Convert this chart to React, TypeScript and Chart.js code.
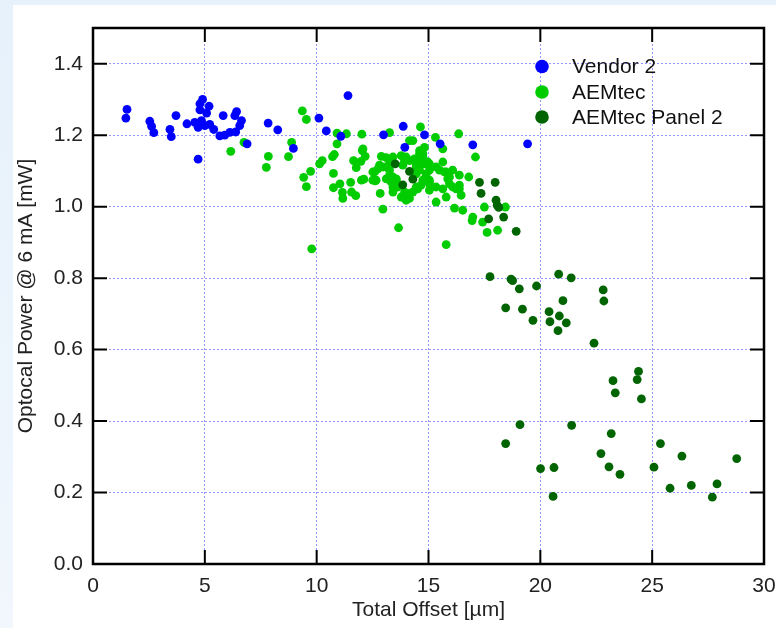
import React, { useEffect, useRef } from 'react';
import { Chart, registerables } from 'chart.js';

Chart.register(...registerables);

const xTicks = [0, 5, 10, 15, 20, 25, 30];
const yTicks = [0, 0.2, 0.4, 0.6, 0.8, 1.0, 1.2, 1.4];

const seriesNames = ['Vendor 2', 'AEMtec', 'AEMtec Panel 2'];
const seriesColors = ['#0000ff', '#00cc00', '#006400'];

const vendor2X = [1.52, 1.47, 2.54, 2.62, 2.72, 3.44, 3.50, 3.71, 4.20, 4.55, 4.70, 4.85, 5.00, 5.22, 5.40, 4.90, 4.78, 5.19, 4.78, 5.08, 5.82, 5.67, 5.89, 6.12, 6.38, 6.42, 6.34, 6.64, 6.56, 6.89, 4.70, 7.83, 8.26, 8.96, 10.10, 10.43, 11.40, 11.08, 12.99, 13.87, 13.94, 14.82, 15.52, 16.98, 19.43];
const vendor2Y = [1.272, 1.248, 1.239, 1.225, 1.207, 1.216, 1.196, 1.255, 1.232, 1.236, 1.222, 1.241, 1.227, 1.230, 1.216, 1.300, 1.288, 1.281, 1.271, 1.262, 1.255, 1.198, 1.200, 1.208, 1.209, 1.266, 1.255, 1.241, 1.227, 1.176, 1.133, 1.234, 1.215, 1.163, 1.248, 1.212, 1.311, 1.197, 1.201, 1.225, 1.166, 1.201, 1.176, 1.173, 1.176];

const aemtecX = [6.75, 6.16, 9.36, 9.54, 8.88, 8.74, 7.84, 7.75, 10.91, 11.33, 12.02, 13.26, 14.64, 10.91, 10.79, 10.71, 10.25, 10.13, 9.73, 9.42, 9.54, 10.75, 10.75, 11.04, 11.15, 11.17, 11.52, 11.56, 11.75, 11.65, 11.77, 12.04, 12.17, 11.98, 12.00, 12.11, 12.62, 12.84, 12.96, 13.66, 9.78, 12.89, 13.11, 13.26, 12.96, 12.74, 12.51, 12.66, 13.26, 13.41, 13.56, 13.63, 13.85, 14.15, 14.00, 14.45, 14.75, 14.90, 14.60, 14.45, 14.15, 14.00, 13.78, 14.75, 14.60, 14.82, 14.15, 14.30, 15.04, 15.04, 13.41, 13.41, 13.11, 14.75, 14.82, 15.04, 15.34, 15.64, 15.49, 15.79, 16.08, 15.94, 16.38, 16.80, 15.04, 15.34, 15.64, 16.08, 16.38, 16.46, 15.79, 15.34, 16.16, 16.53, 16.95, 15.79, 16.35, 15.31, 15.64, 17.10, 17.50, 17.42, 17.62, 18.09, 18.44, 12.07, 14.60, 13.41, 13.93, 14.37, 14.60, 14.97, 12.81, 13.11, 13.85, 14.45, 15.71, 12.59, 12.51, 13.26, 13.33, 13.56, 14.45, 14.82, 14.67, 15.04, 15.86, 15.94, 16.38, 16.24, 15.04, 14.52, 14.30, 13.93, 14.15, 13.78, 16.98];
const aemtecY = [1.180, 1.155, 1.268, 1.244, 1.180, 1.140, 1.141, 1.110, 1.206, 1.204, 1.203, 1.207, 1.223, 1.176, 1.146, 1.140, 1.129, 1.120, 1.099, 1.082, 1.056, 1.093, 1.053, 1.064, 1.040, 1.023, 1.068, 1.041, 1.031, 1.129, 1.109, 1.157, 1.141, 1.127, 1.074, 1.077, 1.072, 1.037, 0.993, 0.941, 0.882, 1.141, 1.137, 1.120, 1.111, 1.106, 1.097, 1.074, 1.102, 1.083, 1.074, 1.055, 1.027, 1.037, 1.018, 1.055, 1.074, 1.092, 1.102, 1.120, 1.129, 1.139, 1.143, 1.139, 1.157, 1.166, 1.185, 1.185, 1.120, 1.074, 1.055, 1.041, 1.078, 1.148, 1.120, 1.102, 1.111, 1.125, 1.102, 1.097, 1.102, 1.083, 1.088, 1.083, 1.064, 1.055, 1.050, 1.055, 1.050, 1.032, 1.027, 1.013, 0.996, 0.990, 0.961, 0.894, 1.204, 1.194, 1.162, 1.139, 0.999, 0.957, 0.928, 0.934, 0.999, 1.162, 1.148, 1.139, 1.129, 1.134, 1.125, 1.125, 1.116, 1.111, 1.116, 1.111, 1.097, 1.097, 1.074, 1.088, 1.069, 1.078, 1.092, 1.078, 1.060, 1.069, 1.078, 1.064, 1.060, 1.050, 1.046, 1.050, 1.041, 1.041, 1.023, 1.027, 0.971];

const panel2X = [13.51, 14.15, 14.30, 13.85, 17.28, 17.98, 17.35, 18.02, 18.07, 18.14, 17.69, 18.36, 18.92, 17.75, 18.69, 18.76, 19.06, 19.83, 20.82, 21.38, 22.81, 22.84, 21.01, 18.45, 19.20, 19.67, 20.39, 20.85, 20.43, 21.16, 20.79, 22.40, 23.25, 23.35, 24.39, 24.33, 24.52, 19.09, 18.45, 21.40, 23.17, 22.71, 23.07, 23.56, 20.01, 20.61, 20.57, 25.37, 26.33, 25.08, 28.78, 25.80, 26.75, 27.90, 27.69];
const panel2Y = [1.120, 1.099, 1.077, 1.061, 1.068, 1.068, 1.037, 1.018, 1.004, 0.998, 0.966, 0.971, 0.931, 0.804, 0.797, 0.793, 0.770, 0.778, 0.811, 0.801, 0.767, 0.736, 0.737, 0.717, 0.713, 0.682, 0.706, 0.694, 0.678, 0.675, 0.653, 0.618, 0.513, 0.479, 0.539, 0.516, 0.462, 0.390, 0.337, 0.388, 0.365, 0.309, 0.272, 0.251, 0.267, 0.270, 0.189, 0.337, 0.302, 0.271, 0.295, 0.212, 0.220, 0.224, 0.187];

const xTitle = 'Total Offset [µm]';
const yTitle = 'Optocal Power @ 6 mA [mW]';

const FONT = "'Liberation Sans', Arial, Helvetica, sans-serif";
const FS = 21;

const toPoints = (xs: number[], ys: number[]) => xs.map((x, i) => ({ x, y: ys[i] }));

const framePlugin = {
  id: 'frameTicks',
  afterDatasetsDraw(chart: any) {
    const { ctx, chartArea, scales } = chart;
    const { left, right, top, bottom } = chartArea;
    const len = 14;
    ctx.save();
    ctx.strokeStyle = '#000';
    ctx.lineWidth = 2;
    ctx.beginPath();
    xTicks.forEach((v) => {
      const px = scales.x.getPixelForValue(v);
      ctx.moveTo(px, bottom);
      ctx.lineTo(px, bottom - len);
      ctx.moveTo(px, top);
      ctx.lineTo(px, top + len);
    });
    yTicks.forEach((v) => {
      const py = scales.y.getPixelForValue(v);
      ctx.moveTo(left, py);
      ctx.lineTo(left + len, py);
      ctx.moveTo(right, py);
      ctx.lineTo(right - len, py);
    });
    ctx.stroke();
    ctx.lineWidth = 2.5;
    ctx.strokeRect(left, top, right - left, bottom - top);
    ctx.restore();
  },
};

const legendPlugin = {
  id: 'customLegend',
  afterDraw(chart: any) {
    const { ctx } = chart;
    const cx = 542;
    const ys = [66.5, 92, 117];
    ctx.save();
    ctx.font = `${FS}px ${FONT}`;
    ctx.textBaseline = 'middle';
    ctx.textAlign = 'left';
    seriesNames.forEach((name, i) => {
      ctx.fillStyle = seriesColors[i];
      ctx.beginPath();
      ctx.arc(cx, ys[i], 6.8, 0, Math.PI * 2);
      ctx.fill();
      ctx.fillStyle = '#111';
      ctx.fillText(name, 572, ys[i] + 1);
    });
    ctx.restore();
  },
};

const zeroPad = (s: any) => {
  s.paddingLeft = 0;
  s.paddingRight = 0;
  s.paddingTop = 0;
  s.paddingBottom = 0;
};

export default function App() {
  const canvasRef = useRef<HTMLCanvasElement | null>(null);

  useEffect(() => {
    document.body.style.margin = '0';
    const canvas = canvasRef.current;
    if (!canvas) return;
    const gridCommon = {
      color: 'rgba(105,105,255,0.7)',
      lineWidth: 1,
      drawTicks: false,
    };
    const chart = new Chart(canvas, {
      type: 'scatter',
      data: {
        datasets: [
          {
            label: seriesNames[0],
            data: toPoints(vendor2X, vendor2Y),
            backgroundColor: seriesColors[0],
            borderWidth: 0,
            pointRadius: 4.4,
            order: 0,
          },
          {
            label: seriesNames[1],
            data: toPoints(aemtecX, aemtecY),
            backgroundColor: seriesColors[1],
            borderWidth: 0,
            pointRadius: 4.4,
            order: 2,
          },
          {
            label: seriesNames[2],
            data: toPoints(panel2X, panel2Y),
            backgroundColor: seriesColors[2],
            borderWidth: 0,
            pointRadius: 4.4,
            order: 1,
          },
        ],
      },
      options: {
        animation: false,
        responsive: false,
        maintainAspectRatio: false,
        layout: { padding: { left: 0, top: 28, right: 12, bottom: 0 } },
        plugins: {
          legend: { display: false },
          tooltip: { enabled: false },
        },
        scales: {
          x: {
            type: 'linear',
            min: 0,
            max: 30,
            afterBuildTicks: (s: any) => {
              s.ticks = xTicks.map((v) => ({ value: v }));
            },
            afterFit: (s: any) => {
              s.height = 64;
              zeroPad(s);
            },
            grid: gridCommon,
            border: { display: false, dash: [2, 2] },
            ticks: {
              padding: 10,
              color: '#222',
              font: { family: FONT, size: FS },
              maxRotation: 0,
            },
            title: {
              display: true,
              text: xTitle,
              color: '#222',
              font: { family: FONT, size: FS },
              padding: { top: 0, bottom: 5 },
            },
          },
          y: {
            type: 'linear',
            min: 0,
            max: 1.5,
            afterBuildTicks: (s: any) => {
              s.ticks = yTicks.map((v) => ({ value: v }));
            },
            afterFit: (s: any) => {
              s.width = 93;
              zeroPad(s);
            },
            grid: gridCommon,
            border: { display: false, dash: [2, 2] },
            ticks: {
              padding: 10,
              color: '#222',
              font: { family: FONT, size: FS },
              callback: (v: any) => Number(v).toFixed(1),
            },
            title: {
              display: true,
              text: yTitle,
              color: '#222',
              font: { family: FONT, size: FS },
              padding: { top: 14, bottom: 0 },
            },
          },
        },
      },
      plugins: [framePlugin, legendPlugin],
    });
    return () => chart.destroy();
  }, []);

  return (
    <div
      style={{
        position: 'relative',
        width: 776,
        height: 628,
        background: 'linear-gradient(#e6f1fb, #f1f7fd)',
        overflow: 'hidden',
      }}
    >
      <div
        style={{
          position: 'absolute',
          left: 13,
          top: 5,
          right: 0,
          bottom: 0,
          background: '#ffffff',
        }}
      />
      <canvas
        ref={canvasRef}
        width={776}
        height={628}
        style={{ position: 'absolute', left: 0, top: 0, width: 776, height: 628 }}
      />
    </div>
  );
}
